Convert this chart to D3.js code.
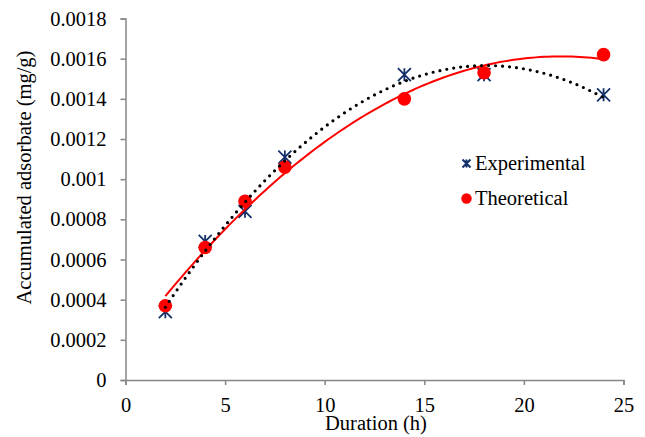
<!DOCTYPE html>
<html>
<head>
<meta charset="utf-8">
<script src="https://cdn.jsdelivr.net/npm/d3@7"></script>
<style>
  body { margin: 0; background: #fff; }
</style>
</head>
<body>
<div id="chart"></div>
<script>
// data
var hours = [2, 4, 6, 8, 14, 18, 24];
var experimental = [0.00034, 0.00069, 0.00084, 0.00111, 0.00152, 0.00152, 0.00142];
var theoretical = [0.00037, 0.00066, 0.00089, 0.00106, 0.00140, 0.00153, 0.00162];
var xTicks = [0, 5, 10, 15, 20, 25];
var yTicks = [0, 0.0002, 0.0004, 0.0006, 0.0008, 0.001, 0.0012, 0.0014, 0.0016, 0.0018];

var FONT = "'Liberation Serif'";
var FS = "20.5px";

var width = 645, height = 437;
var margin = {top: 18.5, right: 21.5, bottom: 57, left: 125.5};

var svg = d3.select("#chart")
  .append("svg")
  .attr("width", width)
  .attr("height", height);

var x = d3.scaleLinear().domain([0, 25]).range([margin.left, width - margin.right]);
var y = d3.scaleLinear().domain([0, 0.0018]).range([height - margin.bottom, margin.top]);

function serif(sel) {
  sel.style("font-family", FONT).style("font-size", FS).attr("fill", "#000");
}

// y axis
var yAxis = svg.append("g")
  .attr("transform", "translate(" + margin.left + ",0)")
  .call(d3.axisLeft(y).tickValues(yTicks).tickSize(5).tickPadding(14)
    .tickFormat(function(d){ return d === 0 ? "0" : String(+d.toFixed(4)); }));
yAxis.selectAll("path, line").attr("stroke", "#868686").attr("stroke-width", 1.5);
yAxis.selectAll("text").call(serif);

// x axis
var xAxis = svg.append("g")
  .attr("transform", "translate(0," + y(0) + ")")
  .call(d3.axisBottom(x).tickValues(xTicks).tickSize(5).tickPadding(12));
xAxis.selectAll("path, line").attr("stroke", "#868686").attr("stroke-width", 1.5);
xAxis.selectAll("text").call(serif);

// axis titles
svg.append("text")
  .attr("x", 376).attr("y", 430)
  .attr("text-anchor", "middle")
  .call(serif)
  .text("Duration (h)");

svg.append("text")
  .attr("transform", "translate(31,177.5) rotate(-90)")
  .attr("text-anchor", "middle")
  .call(serif)
  .text("Accumulated adsorbate (mg/g)");

// quadratic least-squares trendline, like the spreadsheet one
function quadFit(xs, ys) {
  var s = [0, 0, 0, 0, 0], t = [0, 0, 0];
  xs.forEach(function(xv, i) {
    for (var k = 0; k < 5; k++) s[k] += Math.pow(xv, k);
    for (var j = 0; j < 3; j++) t[j] += ys[i] * Math.pow(xv, j);
  });
  var A = [[s[0], s[1], s[2], t[0]], [s[1], s[2], s[3], t[1]], [s[2], s[3], s[4], t[2]]];
  for (var c = 0; c < 3; c++) {
    for (var r = c + 1; r < 3; r++) {
      var f = A[r][c] / A[c][c];
      for (var k2 = c; k2 < 4; k2++) A[r][k2] -= f * A[c][k2];
    }
  }
  var b = [0, 0, 0];
  for (var r2 = 2; r2 >= 0; r2--) {
    var sum = A[r2][3];
    for (var k3 = r2 + 1; k3 < 3; k3++) sum -= A[r2][k3] * b[k3];
    b[r2] = sum / A[r2][r2];
  }
  return function(xv) { return b[0] + b[1] * xv + b[2] * xv * xv; };
}

var fitE = quadFit(hours, experimental);
var fitT = quadFit(hours, theoretical);
var xs = d3.range(2, 24.001, 0.2);

var line = d3.line().x(function(d){ return x(d[0]); }).y(function(d){ return y(d[1]); });

function drawStar(g, cx, cy, r, sw) {
  var p = "M" + (cx - r) + "," + (cy - r) + "L" + (cx + r) + "," + (cy + r) +
          "M" + (cx - r) + "," + (cy + r) + "L" + (cx + r) + "," + (cy - r) +
          "M" + cx + "," + (cy - r) + "L" + cx + "," + (cy + r);
  g.append("path").attr("d", p).attr("stroke", "#13306b").attr("stroke-width", sw).attr("fill", "none");
}

// markers
var stars = svg.append("g");
hours.forEach(function(h, i) {
  drawStar(stars, x(h), y(experimental[i]), 6.5, 1.8);
});

svg.append("path")
  .datum(xs.map(function(v){ return [v, fitT(v)]; }))
  .attr("d", line)
  .attr("fill", "none")
  .attr("stroke", "#ff0000")
  .attr("stroke-width", 2);

svg.selectAll("circle.theo")
  .data(hours)
  .join("circle")
  .attr("class", "theo")
  .attr("cx", function(d){ return x(d); })
  .attr("cy", function(d, i){ return y(theoretical[i]); })
  .attr("r", 6.8)
  .attr("fill", "#ff0000");

svg.append("path")
  .datum(xs.map(function(v){ return [v, fitE(v)]; }))
  .attr("d", line)
  .attr("fill", "none")
  .attr("stroke", "#000")
  .attr("stroke-width", 3.2)
  .attr("stroke-linecap", "round")
  .attr("stroke-dasharray", "0,7");

// legend
var lg = svg.append("g");
drawStar(lg, 466.5, 163.5, 4, 2);
lg.append("text").attr("x", 475).attr("y", 169.5).call(serif).text("Experimental");
lg.append("circle").attr("cx", 466.5).attr("cy", 198.5).attr("r", 5.2).attr("fill", "#ff0000");
lg.append("text").attr("x", 475).attr("y", 205).call(serif).text("Theoretical");
</script>
</body>
</html>
